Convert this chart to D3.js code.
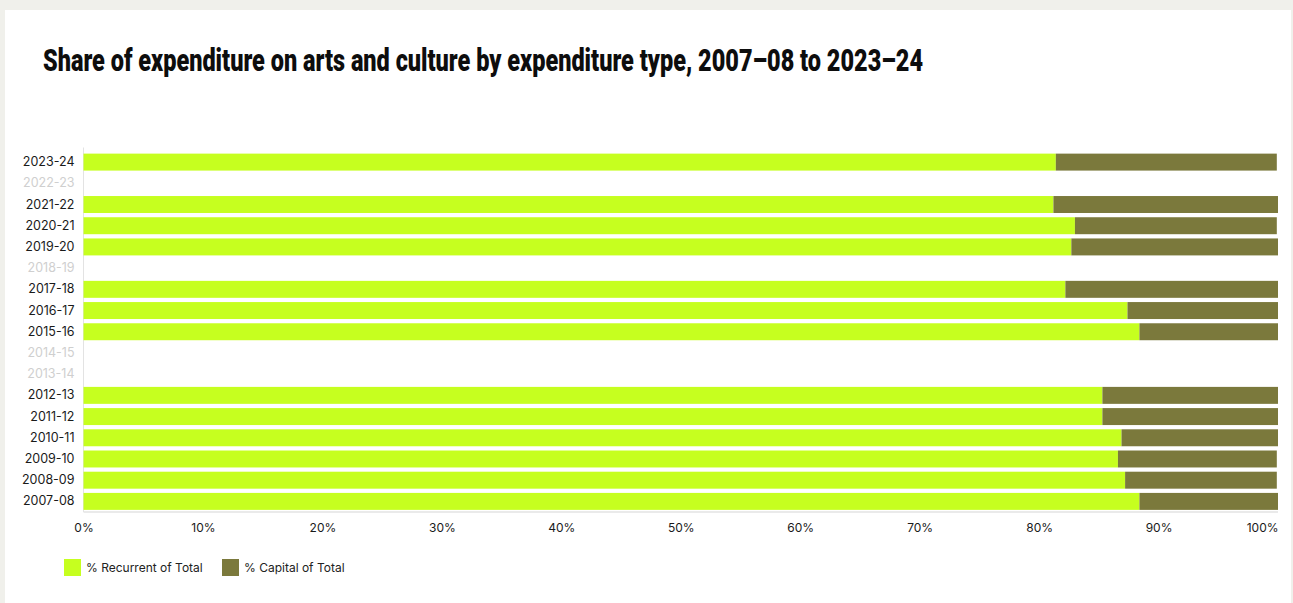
<!DOCTYPE html>
<html>
<head>
<meta charset="utf-8">
<script src="https://cdn.jsdelivr.net/npm/d3@7/dist/d3.min.js"></script>
<style>
  html, body { margin: 0; padding: 0; background: #f0f0eb; }
  svg { display: block; }
  text { font-family: Inter, "Noto Sans", sans-serif; }
</style>
</head>
<body>
<svg id="chart" width="1293" height="603"></svg>
<script>
// Financial years, top to bottom
const years = ["2023-24","2022-23","2021-22","2020-21","2019-20","2018-19","2017-18","2016-17","2015-16","2014-15","2013-14","2012-13","2011-12","2010-11","2009-10","2008-09","2007-08"];
// Share of total expenditure (%), null where no data was published
const recurrent = [81.4, null, 81.2, 83.0, 82.7, null, 82.2, 87.4, 88.4, null, null, 85.3, 85.3, 86.9, 86.6, 87.2, 88.4];
const capital   = [18.5, null, 18.8, 16.9, 17.3, null, 17.8, 12.6, 11.6, null, null, 14.7, 14.7, 13.1, 13.3, 12.7, 11.6];
const seriesNames = ["% Recurrent of Total", "% Capital of Total"];
const xTicks = [0,10,20,30,40,50,60,70,80,90,100];
const titleText = "Share of expenditure on arts and culture by expenditure type, 2007\u201308 to 2023\u201324";

const colors = ["#c6ff1f", "#7b793c"];

const svg = d3.select("#chart");

// white card
svg.append("rect").attr("x", 5).attr("y", 10).attr("width", 1286).attr("height", 600).attr("fill", "#ffffff");

// title
svg.append("text")
  .attr("x", 43).attr("y", 71)
  .attr("textLength", 880).attr("lengthAdjust", "spacingAndGlyphs")
  .style("font-family", "Roboto, Inter, sans-serif")
  .style("font-weight", 900).style("font-size", "32px").attr("fill", "#0d0d0d")
  .text(titleText);

const margin = {left: 83.5, right: 1278, top: 151.5, bottom: 512};

const x = d3.scaleLinear().domain([0, 100]).range([margin.left, margin.right]);
const y = d3.scaleBand().domain(years).range([margin.top, margin.bottom]).paddingInner(0.2).paddingOuter(0.1);

const rows = years.map((yr, i) => ({year: yr, rec: recurrent[i], cap: capital[i]}));

// axis lines
svg.append("line").attr("x1", margin.left).attr("x2", margin.left)
  .attr("y1", margin.top - 4).attr("y2", margin.bottom).attr("stroke", "#e3e3e3").attr("stroke-width", 1);
svg.append("line").attr("x1", margin.left).attr("x2", margin.right)
  .attr("y1", margin.bottom).attr("y2", margin.bottom).attr("stroke", "#e3e3e3").attr("stroke-width", 1.5);

// bars
const g = svg.append("g");
rows.filter(d => d.rec != null).forEach(d => {
  g.append("rect").attr("x", x(0)).attr("y", y(d.year))
    .attr("width", x(d.rec) - x(0)).attr("height", y.bandwidth()).attr("fill", colors[0]);
  g.append("rect").attr("x", x(d.rec)).attr("y", y(d.year))
    .attr("width", x(d.rec + d.cap) - x(d.rec)).attr("height", y.bandwidth()).attr("fill", colors[1]);
});

// y axis labels
const yAxis = d3.axisLeft(y).tickSize(0).tickPadding(9);
const yg = svg.append("g").attr("transform", `translate(${margin.left},0)`).call(yAxis);
yg.select(".domain").remove();
yg.selectAll("text")
  .style("font-size", "12.5px")
  .attr("fill", (d, i) => rows[i].rec == null ? "#cfcfcf" : "#1a1a1a");

// x axis labels
const xAxis = d3.axisBottom(x).tickValues(xTicks).tickFormat(d => d + "%").tickSize(0).tickPadding(10);
const xg = svg.append("g").attr("transform", `translate(0,${margin.bottom + 1})`).call(xAxis);
xg.select(".domain").remove();
xg.selectAll("text").style("font-size", "12px").attr("fill", "#1a1a1a")
  .attr("text-anchor", d => d === 100 ? "end" : "middle");

// legend
const legendX = [64, 222];
seriesNames.forEach((name, i) => {
  svg.append("rect").attr("x", legendX[i]).attr("y", 559).attr("width", 17).attr("height", 17).attr("fill", colors[i]);
  svg.append("text").attr("x", legendX[i] + 22).attr("y", 572)
    .style("font-size", "12px").attr("fill", "#222").text(name);
});
</script>
</body>
</html>
